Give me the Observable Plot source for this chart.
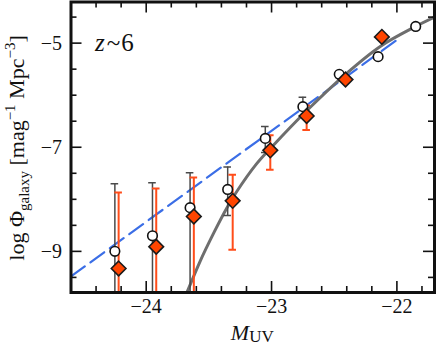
<!DOCTYPE html>
<html><head><meta charset="utf-8">
<script src="https://cdn.jsdelivr.net/npm/d3@7"></script>
<script src="https://cdn.jsdelivr.net/npm/@observablehq/plot@0.6"></script>
<style>body{margin:0;background:#fff}</style>
</head><body><div id="chart"></div>
<script>
// Open circles
const circleM      = [-24.25, -23.95, -23.65, -23.35, -23.05, -22.75, -22.46, -22.15, -21.85];
const circleLogPhi = [-9.00, -8.70, -8.16, -7.81, -6.83, -6.22, -5.60, -5.26, -4.68];
const circleErrHi  = [-7.70, -7.68, -7.49, -7.38, -6.60, -6.04, null, null, null];
const circleErrLo  = [-11, -11, -11, -8.31, -7.10, -6.40, null, null, null];
// Filled diamonds
const diamondM      = [-24.22, -23.92, -23.62, -23.31, -23.01, -22.72, -22.41, -22.12];
const diamondLogPhi = [-9.33, -8.91, -8.33, -8.03, -7.06, -6.40, -5.70, -4.88];
const diamondErrHi  = [-7.87, -7.79, -7.58, -7.53, -6.77, -6.20, null, null];
const diamondErrLo  = [-11, -11, -11, -8.97, -7.43, -6.67, null, null];
// Solid grey curve
const curveM      = [-23.71, -23.68, -23.57, -23.46, -23.36, -23.28, -23.12, -23.00, -22.72, -22.41, -22.13, -21.85, -21.68];
const curveLogPhi = [-10.00, -9.82, -9.19, -8.64, -8.18, -7.86, -7.32, -7.00, -6.30, -5.60, -5.06, -4.68, -4.48];
// Dashed blue line
const dashM      = [-24.60, -21.99];
const dashLogPhi = [-9.48, -4.92];
// Axes
const xDomain = [-24.60, -21.70];
const yDomain = [-9.79, -4.21];
const xMajor = [-24, -23, -22];
const xMinor = [-24.4, -24.2, -23.8, -23.6, -23.4, -23.2, -22.8, -22.6, -22.4, -22.2, -21.8];
const yMajor = [-9, -7, -5];
const yMinor = [-9.5, -8.5, -8, -7.5, -6.5, -6, -5.5, -4.5];

const W = 436, H = 347;
const mL = 70.5, mR = 2, mT = 1.5, mB = 55;
const pxPerX = (W - mL - mR) / (xDomain[1] - xDomain[0]);
const pxPerY = (H - mT - mB) / (yDomain[1] - yDomain[0]);
const [X0, X1] = xDomain, [Y0, Y1] = yDomain;
const majLen = 11, minLen = 6;
const serif = "'Liberation Serif', 'Times New Roman', serif";

const circles = circleM.map((M, i) => ({M, phi: circleLogPhi[i], hi: circleErrHi[i], lo: circleErrLo[i]}));
const diamonds = diamondM.map((M, i) => ({M, phi: diamondLogPhi[i], hi: diamondErrHi[i], lo: diamondErrLo[i]}));
const cErr = circles.filter(d => d.hi != null);
const dErr = diamonds.filter(d => d.hi != null);
const curve = curveM.map((M, i) => ({M, phi: curveLogPhi[i]}));
const dash = dashM.map((M, i) => ({M, phi: dashLogPhi[i]}));
const cap = 3.8 / pxPerX;

const grey = "#4a4a4a", orange = "#ff4d1a";

function ticks(values, axis, len) {
  const lx = len / pxPerX, ly = len / pxPerY;
  if (axis === "x") return [
    Plot.ruleX(values, {x: d => d, y1: Y0, y2: Y0 + ly, stroke: "#111", strokeWidth: 1.6}),
    Plot.ruleX(values, {x: d => d, y1: Y1 - ly, y2: Y1, stroke: "#111", strokeWidth: 1.6})
  ];
  return [
    Plot.ruleY(values, {y: d => d, x1: X0, x2: X0 + lx, stroke: "#111", strokeWidth: 1.6}),
    Plot.ruleY(values, {y: d => d, x1: X1 - lx, x2: X1, stroke: "#111", strokeWidth: 1.6})
  ];
}

const plot = Plot.plot({
  width: W, height: H,
  marginLeft: mL, marginRight: mR, marginTop: mT, marginBottom: mB,
  style: {fontFamily: serif, fontSize: "20px", color: "#111", background: "#fff"},
  x: {domain: xDomain},
  y: {domain: yDomain},
  marks: [
    Plot.line(dash, {x: "M", y: "phi", stroke: "#3b6ee6", strokeWidth: 2.2, strokeDasharray: "17,7", clip: true}),
    Plot.line(curve, {x: "M", y: "phi", stroke: "#6e6e6e", strokeWidth: 3, curve: "catmull-rom", clip: true}),
    Plot.ruleX(cErr, {x: "M", y1: "lo", y2: "hi", stroke: grey, strokeWidth: 1.5, clip: true}),
    Plot.ruleY(cErr, {y: "hi", x1: d => d.M - cap, x2: d => d.M + cap, stroke: grey, strokeWidth: 1.5, clip: true}),
    Plot.ruleY(cErr, {y: "lo", x1: d => d.M - cap, x2: d => d.M + cap, stroke: grey, strokeWidth: 1.5, clip: true}),
    Plot.ruleX(dErr, {x: "M", y1: "lo", y2: "hi", stroke: orange, strokeWidth: 2, clip: true}),
    Plot.ruleY(dErr, {y: "hi", x1: d => d.M - cap, x2: d => d.M + cap, stroke: orange, strokeWidth: 2, clip: true}),
    Plot.ruleY(dErr, {y: "lo", x1: d => d.M - cap, x2: d => d.M + cap, stroke: orange, strokeWidth: 2, clip: true}),
    Plot.dot(circles, {x: "M", y: "phi", r: 4.8, fill: "white", stroke: "#111", strokeWidth: 1.6}),
    Plot.dot(diamonds, {x: "M", y: "phi", r: 6.6, symbol: "diamond2", fill: "#ff4500", stroke: "#1a1a1a", strokeWidth: 1.6}),
    ...ticks(xMajor, "x", majLen), ...ticks(xMinor, "x", minLen),
    ...ticks(yMajor, "y", majLen), ...ticks(yMinor, "y", minLen),
    Plot.frame({stroke: "#111", strokeWidth: 3}),
    Plot.axisX(xMajor, {tickSize: 0, tickPadding: 6, tickFormat: d3.format("d"), label: null}),
    Plot.axisY(yMajor, {tickSize: 0, tickPadding: 9, tickFormat: d3.format("d"), label: null})
  ]
});

const svg = d3.select(plot);
// y title
const yt = svg.append("text")
  .attr("transform", "translate(24,148) rotate(-90)")
  .attr("text-anchor", "middle").attr("font-family", serif)
  .attr("font-size", 22).attr("fill", "#111");
yt.append("tspan").text("log Φ");
yt.append("tspan").attr("font-size", 15).attr("dy", 5).text("galaxy");
yt.append("tspan").attr("dy", -5).text(" [mag");
yt.append("tspan").attr("font-size", 15).attr("dy", -9).text("−1");
yt.append("tspan").attr("dy", 9).text(" Mpc");
yt.append("tspan").attr("font-size", 15).attr("dy", -9).text("−3");
yt.append("tspan").attr("dy", 9).text("]");
// x title
const xt = svg.append("text")
  .attr("x", (mL + W - mR) / 2).attr("y", 340)
  .attr("text-anchor", "middle").attr("font-family", serif)
  .attr("font-size", 22).attr("fill", "#111");
xt.append("tspan").attr("font-style", "italic").text("M");
xt.append("tspan").attr("font-size", 17).attr("dy", 2).text("UV");
// panel label
const zt = svg.append("text").attr("x", 95).attr("y", 50.7)
  .attr("text-anchor", "start").attr("font-family", serif)
  .attr("font-size", 25).attr("fill", "#111");
zt.append("tspan").attr("font-style", "italic").text("z");
zt.append("tspan").attr("dx", 2).text("~");
zt.append("tspan").attr("dx", 1).text("6");

document.getElementById("chart").appendChild(plot);
</script>
</body></html>
